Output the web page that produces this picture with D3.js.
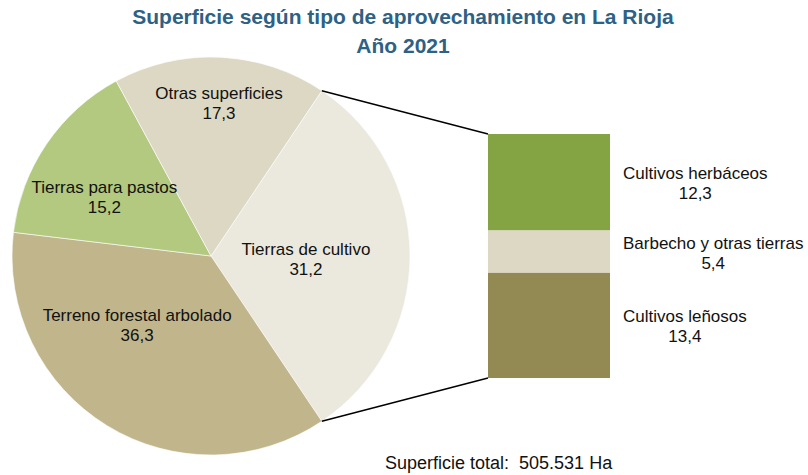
<!DOCTYPE html>
<html>
<head>
<meta charset="utf-8">
<script src="https://cdn.jsdelivr.net/npm/d3@7"></script>
<style>
  html, body { margin: 0; padding: 0; background: #fff; }
  svg { display: block; font-family: "Liberation Sans", Arial, sans-serif; }
</style>
</head>
<body>
<svg id="chart" width="808" height="475"></svg>
<script>
// ---- data ----
const pieCategories = ["Tierras de cultivo", "Terreno forestal arbolado", "Tierras para pastos", "Otras superficies"];
const pieValues = [31.2, 36.3, 15.2, 17.3];
const pieColors = ["#ebe9dd", "#c1b58c", "#b2c97f", "#ddd8c4"];

const barCategories = ["Cultivos herbáceos", "Barbecho y otras tierras", "Cultivos leñosos"];
const barValues = [12.3, 5.4, 13.4];
const barColors = ["#84a444", "#ddd8c4", "#938a53"];

const titleLines = ["Superficie según tipo de aprovechamiento en La Rioja", "Año 2021"];
const footnote = "Superficie total:  505.531 Ha";

// ---- layout ----
const W = 808, H = 475;
const cx = 211, cy = 256, R = 199;
const FS = "17px";
// label placement per slice: [angle in degrees clockwise from top, radius]
const pieLabelPolar = [[92, 95], [227, 101], [299, 122], [3, 153]];
const bar = { x0: 488, x1: 610, y0: 134, y1: 378 };
const fmt = v => d3.format(".1f")(v).replace(".", ",");

const svg = d3.select("#chart");

// title
svg.selectAll("text.title").data(titleLines).enter().append("text")
  .attr("class", "title")
  .attr("x", 403).attr("y", (d, i) => 24 + i * 29)
  .attr("text-anchor", "middle")
  .attr("font-size", "21px").attr("font-weight", "bold")
  .attr("fill", "#2e6184")
  .text(d => d);

// pie
const total = d3.sum(pieValues);
const firstAngle = pieValues[0] / total * 2 * Math.PI;
const pie = d3.pie().sort(null)
  .startAngle(Math.PI / 2 - firstAngle / 2)
  .endAngle(Math.PI / 2 - firstAngle / 2 + 2 * Math.PI);
const arcs = pie(pieValues);
const arc = d3.arc().innerRadius(0).outerRadius(R);

const g = svg.append("g").attr("transform", `translate(${cx},${cy})`);
g.selectAll("path").data(arcs).enter().append("path")
  .attr("d", arc)
  .attr("fill", (d, i) => pieColors[i])
  .attr("stroke", "#ffffff").attr("stroke-width", 0.6);

const pl = g.selectAll("g.pl").data(arcs).enter().append("g")
  .attr("class", "pl")
  .attr("transform", (d, i) => {
    const a = pieLabelPolar[i][0] * Math.PI / 180, r = pieLabelPolar[i][1];
    return `translate(${r * Math.sin(a)},${-r * Math.cos(a)})`;
  });
pl.append("text").attr("text-anchor", "middle").attr("y", -4)
  .attr("font-size", FS).attr("fill", "#111")
  .text((d, i) => pieCategories[i]);
pl.append("text").attr("text-anchor", "middle").attr("y", 16)
  .attr("font-size", FS).attr("fill", "#111")
  .text(d => fmt(d.data));

// bar of pie
const barTotal = d3.sum(barValues);
const y = d3.scaleLinear().domain([0, barTotal]).range([bar.y0, bar.y1]);
const cum = barValues.map((v, i) => d3.sum(barValues.slice(0, i)));
svg.selectAll("rect.seg").data(barValues).enter().append("rect")
  .attr("class", "seg")
  .attr("x", bar.x0).attr("width", bar.x1 - bar.x0)
  .attr("y", (d, i) => y(cum[i]))
  .attr("height", d => y(d) - y(0))
  .attr("fill", (d, i) => barColors[i]);

// connector lines
const a0 = arcs[0].startAngle, a1 = arcs[0].endAngle;
const conn = [
  [[cx + R * Math.sin(a0), cy - R * Math.cos(a0)], [bar.x0, y(0)]],
  [[cx + R * Math.sin(a1), cy - R * Math.cos(a1)], [bar.x0, y(barTotal)]]
];
svg.selectAll("line.conn").data(conn).enter().append("line")
  .attr("x1", d => d[0][0]).attr("y1", d => d[0][1])
  .attr("x2", d => d[1][0]).attr("y2", d => d[1][1])
  .attr("stroke", "#000").attr("stroke-width", 1.4);

// bar labels
const bl = svg.selectAll("g.bl").data(barValues).enter().append("g")
  .attr("class", "bl")
  .attr("transform", (d, i) => `translate(623,${(y(cum[i]) + y(cum[i] + d)) / 2})`);
bl.append("text").attr("class", "nm").attr("x", 0).attr("y", -3)
  .attr("font-size", FS).attr("fill", "#111")
  .text((d, i) => barCategories[i]);
bl.each(function (d) {
  const gg = d3.select(this);
  const w = gg.select("text.nm").node().getComputedTextLength();
  gg.append("text").attr("x", w / 2).attr("y", 17)
    .attr("text-anchor", "middle")
    .attr("font-size", FS).attr("fill", "#111")
    .text(fmt(d));
});

// footnote
svg.append("text").attr("x", 385).attr("y", 469)
  .attr("font-size", "18px").attr("fill", "#111")
  .style("white-space", "pre")
  .text(footnote);
</script>
</body>
</html>
